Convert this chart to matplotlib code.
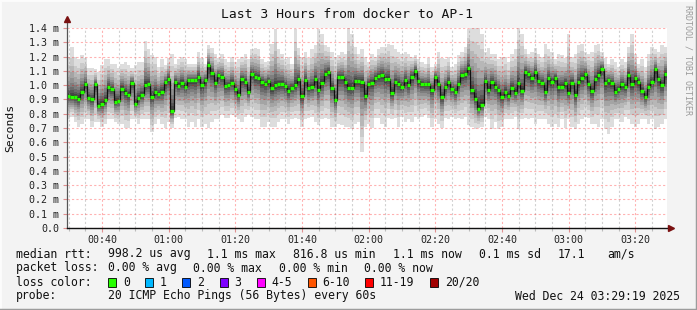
"""SmokePing style latency graph: last 3 hours from docker to AP-1."""

import matplotlib
matplotlib.use("Agg")
import matplotlib.pyplot as plt
from matplotlib.lines import Line2D
from matplotlib.patches import Rectangle
import numpy as np

# one sample per minute, first step starts at 00:29:30 (minutes after midnight)
START_MIN = 29.5

median_ms = [
    0.924, 0.915, 0.915, 0.905, 0.952, 1.006, 0.910, 0.900, 1.005, 0.854,
    0.868, 0.894, 0.985, 0.971, 0.884, 0.890, 0.976, 0.948, 0.931, 1.017,
    0.868, 0.910, 0.929, 1.000, 1.006, 0.917, 0.952, 0.938, 0.952, 1.020,
    1.045, 0.817, 1.024, 0.997, 1.017, 0.990, 1.034, 1.034, 1.034, 1.060,
    1.000, 1.036, 1.143, 1.087, 1.017, 1.071, 1.057, 0.995, 1.000, 1.017,
    0.971, 0.931, 1.040, 1.024, 0.955, 1.078, 1.057, 1.052, 1.020, 1.010,
    1.027, 0.978, 0.998, 1.005, 1.010, 0.995, 0.959, 0.982, 1.000, 1.040,
    0.922, 1.036, 0.978, 0.987, 1.041, 0.963, 1.013, 1.080, 1.092, 0.980,
    0.894, 1.057, 1.055, 1.020, 0.982, 0.982, 1.029, 1.027, 1.022, 0.924,
    1.010, 1.017, 1.052, 1.062, 1.069, 1.045, 1.045, 0.943, 1.020, 1.010,
    0.987, 1.034, 0.998, 1.059, 1.101, 1.027, 1.010, 1.005, 1.005, 0.968,
    1.055, 1.008, 0.915, 0.985, 1.022, 0.975, 0.952, 1.005, 1.071, 1.076,
    1.118, 0.963, 0.905, 0.835, 0.861, 1.027, 0.966, 1.022, 0.990, 0.963,
    0.915, 0.952, 0.927, 0.980, 0.948, 1.017, 0.961, 1.090, 1.080, 1.048,
    1.090, 1.029, 1.017, 0.952, 1.048, 1.022, 1.050, 0.985, 0.990, 1.017,
    0.948, 1.017, 0.931, 1.022, 1.048, 1.078, 1.010, 0.959, 1.041, 1.073,
    1.115, 1.013, 1.034, 1.013, 0.955, 0.975, 1.005, 0.985, 1.073, 1.005,
    1.048, 1.022, 0.959, 0.915, 0.985, 1.022, 1.111, 1.040, 1.000, 1.078,
]

smoke_hi_ms = [
    1.20, 1.27, 1.20, 1.18, 1.21, 1.19, 1.12, 1.12, 1.11, 1.09,
    1.14, 1.18, 1.18, 1.15, 1.15, 1.12, 1.15, 1.16, 1.14, 1.12,
    1.14, 1.16, 1.16, 1.31, 1.25, 1.21, 1.20, 1.13, 1.18, 1.14,
    1.19, 1.22, 1.15, 1.18, 1.20, 1.18, 1.15, 1.15, 1.15, 1.23,
    1.19, 1.15, 1.28, 1.26, 1.22, 1.19, 1.22, 1.18, 1.16, 1.20,
    1.16, 1.18, 1.20, 1.22, 1.18, 1.25, 1.26, 1.25, 1.18, 1.16,
    1.17, 1.29, 1.39, 1.25, 1.22, 1.18, 1.20, 1.15, 1.39, 1.26,
    1.20, 1.23, 1.19, 1.25, 1.28, 1.39, 1.36, 1.28, 1.27, 1.23,
    1.20, 1.21, 1.23, 1.22, 1.40, 1.36, 1.27, 1.22, 1.25, 1.20,
    1.16, 1.22, 1.20, 1.25, 1.27, 1.27, 1.29, 1.28, 1.25, 1.23,
    1.22, 1.23, 1.22, 1.20, 1.21, 1.18, 1.16, 1.15, 1.19, 1.13,
    1.15, 1.23, 1.19, 1.18, 1.20, 1.13, 1.15, 1.21, 1.23, 1.27,
    1.39, 1.41, 1.41, 1.41, 1.36, 1.23, 1.26, 1.22, 1.22, 1.18,
    1.20, 1.20, 1.16, 1.22, 1.25, 1.40, 1.36, 1.25, 1.22, 1.23,
    1.26, 1.22, 1.20, 1.29, 1.25, 1.23, 1.18, 1.22, 1.21, 1.19,
    1.36, 1.20, 1.22, 1.28, 1.29, 1.23, 1.22, 1.23, 1.28, 1.29,
    1.23, 1.19, 1.15, 1.18, 1.16, 1.13, 1.18, 1.16, 1.27, 1.36,
    1.22, 1.15, 1.18, 1.13, 1.22, 1.27, 1.25, 1.23, 1.28, 1.27,
]

smoke_lo_ms = [
    0.76, 0.78, 0.74, 0.71, 0.73, 0.76, 0.76, 0.71, 0.74, 0.74,
    0.71, 0.73, 0.76, 0.76, 0.74, 0.73, 0.73, 0.70, 0.70, 0.76,
    0.76, 0.73, 0.76, 0.76, 0.76, 0.67, 0.73, 0.76, 0.73, 0.70,
    0.74, 0.70, 0.77, 0.78, 0.76, 0.76, 0.71, 0.74, 0.71, 0.76,
    0.71, 0.73, 0.70, 0.74, 0.76, 0.76, 0.79, 0.77, 0.77, 0.79,
    0.78, 0.76, 0.74, 0.78, 0.79, 0.78, 0.76, 0.76, 0.71, 0.71,
    0.74, 0.71, 0.71, 0.74, 0.76, 0.76, 0.73, 0.76, 0.77, 0.76,
    0.71, 0.76, 0.77, 0.78, 0.74, 0.72, 0.76, 0.77, 0.76, 0.71,
    0.71, 0.73, 0.72, 0.71, 0.71, 0.69, 0.73, 0.74, 0.53, 0.71,
    0.73, 0.70, 0.77, 0.77, 0.73, 0.71, 0.77, 0.76, 0.77, 0.71,
    0.78, 0.74, 0.76, 0.74, 0.78, 0.76, 0.78, 0.79, 0.77, 0.71,
    0.76, 0.73, 0.70, 0.77, 0.76, 0.78, 0.76, 0.77, 0.76, 0.78,
    0.72, 0.71, 0.69, 0.70, 0.71, 0.78, 0.76, 0.69, 0.74, 0.69,
    0.71, 0.76, 0.76, 0.76, 0.78, 0.69, 0.76, 0.77, 0.76, 0.77,
    0.73, 0.76, 0.76, 0.76, 0.73, 0.71, 0.73, 0.71, 0.76, 0.70,
    0.76, 0.71, 0.69, 0.73, 0.76, 0.78, 0.77, 0.73, 0.73, 0.71,
    0.76, 0.69, 0.66, 0.71, 0.76, 0.76, 0.74, 0.78, 0.76, 0.73,
    0.71, 0.73, 0.76, 0.76, 0.73, 0.76, 0.69, 0.71, 0.73, 0.76,
]

y_ticks = [0.0, 0.1, 0.2, 0.3, 0.4, 0.5, 0.6, 0.7, 0.8, 0.9, 1.0, 1.1, 1.2, 1.3, 1.4]
y_labels = ["0.0", "0.1 m", "0.2 m", "0.3 m", "0.4 m", "0.5 m", "0.6 m", "0.7 m",
            "0.8 m", "0.9 m", "1.0 m", "1.1 m", "1.2 m", "1.3 m", "1.4 m"]
x_ticks = [40, 60, 80, 100, 120, 140, 160, 180, 200]
x_labels = ["00:40", "01:00", "01:20", "01:40", "02:00", "02:20", "02:40", "03:00", "03:20"]

loss_names = ["0", "1", "2", "3", "4-5", "6-10", "11-19", "20/20"]
loss_colors = ["#26ff00", "#00b8ff", "#0059ff", "#7e00ff", "#ff00ff", "#ff5500", "#ff0000", "#a10000"]

stats_rtt = ["998.2 us avg", "1.1 ms max", "816.8 us min", "1.1 ms now", "0.1 ms sd", "17.1", "am/s"]
stats_loss = ["0.00 % avg", "0.00 % max", "0.00 % min", "0.00 % now"]
probe_text = "20 ICMP Echo Pings (56 Bytes) every 60s"
stamp_text = "Wed Dec 24 03:29:19 2025"

W, H = 697, 310
MONO = "DejaVu Sans Mono"
BG = "#f3f3f3"


def fx(x):
    return x / W


def fy(y):
    return 1 - y / H


fig = plt.figure(figsize=(W / 100, H / 100), dpi=100, facecolor=BG)
ax = fig.add_axes([fx(67), fy(228), 600 / W, 200 / H])
ax.set_facecolor("white")

med = np.array(median_ms)
lo = np.array(smoke_lo_ms)
hi = np.array(smoke_hi_ms)
edges = START_MIN + np.arange(len(med) + 1)

# smoke: 10 stacked bands, light outside, dark near the median
fracs = [1.0, 0.78, 0.62, 0.49, 0.38, 0.29, 0.21, 0.14, 0.085, 0.04]
for k, f in enumerate(fracs):
    g = int(190 / 10 * (10 - (k + 1))) + 50
    ax.stairs(med + f * (hi - med), edges, baseline=med - f * (med - lo),
              fill=True, color="#%02x%02x%02x" % (g, g, g), lw=0, zorder=1)

ax.stairs(med, edges, baseline=None, color="#101010", lw=0.9, zorder=4)
ax.hlines(med, edges[:-1], edges[1:], color=loss_colors[0], lw=2.4, zorder=5)

ax.set_xlim(edges[0], edges[-1])
ax.set_ylim(0, 1.4)
for side in ("left", "right", "top", "bottom"):
    ax.spines[side].set_visible(False)

ax.set_yticks(y_ticks)
ax.set_yticklabels(y_labels, family=MONO, fontsize=7.2, color="#222222")
ax.set_xticks(x_ticks)
ax.set_xticklabels(x_labels, family=MONO, fontsize=7.2, color="#222222")
ax.set_xticks(np.arange(30, 210, 5), minor=True)
ax.tick_params(axis="y", length=3, width=0.8, color="#e09090", pad=2.6)
ax.tick_params(axis="x", which="major", length=3, width=0.8, color="#e09090", pad=1.8)
ax.tick_params(axis="x", which="minor", length=2, width=0.8, color="#bbbbbb")

ax.set_axisbelow(False)
ax.grid(True, which="major", color="#ff0000", alpha=0.3, lw=0.8, ls=(0, (2, 2)))
ax.grid(True, which="minor", axis="x", color="#999999", alpha=0.45, lw=0.8, ls=(0, (2, 2)))

# axis lines with arrow heads
ax.plot([edges[0], edges[0]], [0, 1.45], color="#555555", lw=0.9, clip_on=False, zorder=6)
ax.plot([edges[0]], [1.46], marker="^", ms=5, color="#7a1010", clip_on=False, zorder=7)
ax.plot([edges[0], edges[-1] + 1.2], [0, 0], color="#111111", lw=1.0, clip_on=False, zorder=6)
ax.plot([edges[-1] + 1.3], [0], marker=">", ms=5, color="#7a1010", clip_on=False, zorder=7)

fig.text(fx(347), fy(14), "Last 3 Hours from docker to AP-1", family=MONO, fontsize=9.4,
         ha="center", va="center", color="#111111")
fig.text(fx(10), fy(128), "Seconds", family=MONO, fontsize=8.2, rotation=90,
         ha="center", va="center", color="#111111")
fig.text(fx(688), fy(60), "RRDTOOL / TOBI OETIKER", family=MONO, fontsize=6, rotation=270,
         ha="center", va="center", color="#9a9a9a")

# legend block
txt = dict(family=MONO, fontsize=8.3, va="center", color="#111111")
fig.text(fx(16), fy(254), "median rtt:", **txt)
for xp, s in zip([107.5, 207, 293, 393, 479, 558, 607], stats_rtt):
    fig.text(fx(xp), fy(254), s, **txt)

fig.text(fx(16), fy(268), "packet loss:", **txt)
for xp, s in zip([107.5, 193, 279, 364.5], stats_loss):
    fig.text(fx(xp), fy(268), s, **txt)

fig.text(fx(16), fy(282), "loss color:", **txt)
box_x = [108, 145, 182, 219.5, 256.5, 307.5, 365, 430]
for bx, name, col in zip(box_x, loss_names, loss_colors):
    fig.patches.append(Rectangle((fx(bx), fy(286.5)), 8 / W, 8.5 / H, transform=fig.transFigure,
                                 facecolor=col, edgecolor="black", lw=0.6))
    fig.text(fx(bx + 15), fy(282), name, **txt)

fig.text(fx(16), fy(296), "probe:", **txt)
fig.text(fx(107.5), fy(296), probe_text, **txt)
fig.text(fx(680), fy(296), stamp_text, ha="right", **txt)

# bevelled frame around the image
fig.add_artist(Line2D([0, 0, 1], [0, 1, 1], transform=fig.transFigure, color="#fcfcfc", lw=2))
fig.add_artist(Line2D([0, 1, 1], [0, 0, 1], transform=fig.transFigure, color="#9c9c9c", lw=2.5))

fig.savefig("out.png", dpi=100, facecolor=BG)
plt.close(fig)
